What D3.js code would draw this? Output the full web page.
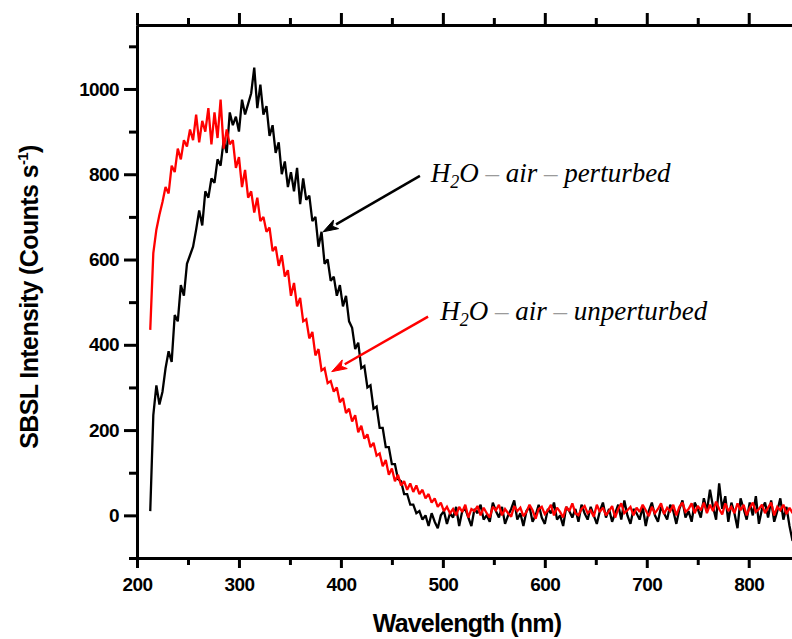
<!DOCTYPE html>
<html>
<head>
<meta charset="utf-8">
<script src="https://cdn.jsdelivr.net/npm/d3@7"></script>
<style>
  html, body { margin: 0; padding: 0; background: #fff; }
  svg { display: block; }
</style>
</head>
<body>
<svg id="chart" width="792" height="639"></svg>
<script>
// ---------------- DATA ----------------
const waveStart = 213, waveStep = 3;   // nm grid of the spectra

const perturbed = [ // H2O - air - perturbed (black), counts/s
  10,235,305,260,290,345,385,360,470,455,
  540,515,590,610,630,670,715,680,760,745,
  790,780,835,820,880,850,945,915,935,900,
  975,940,965,990,1050,955,1010,940,960,890,
  915,850,875,800,830,770,805,760,815,730,
  790,740,750,690,700,630,665,590,600,550,
  560,515,540,490,515,455,440,390,405,345,
  350,300,305,250,255,205,205,160,160,120,
  120,85,80,50,50,25,25,5,10,-10,
  0,-25,5,-15,-30,0,10,-20,5,-5,
  20,-25,10,15,-5,-25,15,5,25,-10,
  0,-15,30,10,-5,20,-20,0,15,35,
  -10,5,-25,10,20,-15,0,25,-5,-20,
  15,5,30,-10,0,-25,20,10,-5,15,
  -15,25,5,-10,20,0,-20,10,30,-5,
  15,-15,5,25,-10,35,0,-20,15,5,
  -10,20,-25,10,30,0,-15,20,5,-10,
  25,10,-20,15,35,-5,10,-15,30,15,
  -5,40,10,60,20,-10,75,15,45,-15,
  30,5,-30,40,15,-10,30,0,45,-20,
  15,30,-5,35,-15,10,40,-10,20,-25,-60
];

const unperturbed = [ // H2O - air - unperturbed (red), counts/s
  435,615,670,705,735,770,755,820,805,860,
  835,880,865,905,880,940,875,925,900,955,
  870,945,885,975,860,905,870,880,815,840,
  770,810,745,760,710,745,690,700,665,675,
  620,630,585,610,560,575,515,545,490,510,
  455,460,415,430,375,390,340,345,310,315,
  290,300,265,275,240,250,220,235,195,210,
  180,190,160,170,140,145,115,130,95,110,
  80,95,70,80,60,75,55,70,50,60,
  40,50,30,40,20,30,10,20,5,15,
  0,20,8,25,-5,15,10,22,0,18,
  5,-5,20,12,25,0,15,5,-3,22,
  10,18,-2,8,25,12,-8,15,20,3,
  12,25,0,18,8,-5,20,10,28,5,
  0,15,22,5,12,-3,25,8,18,0,
  10,22,-5,15,28,5,12,20,0,18,
  8,25,12,-2,20,5,15,28,3,18,
  10,25,0,20,30,8,15,28,5,22,
  12,30,5,25,10,32,15,2,28,10,
  20,5,28,12,25,0,18,30,8,15,
  25,5,18,30,0,20,12,25,3,18,5
];

const xTicksMajor = [200, 300, 400, 500, 600, 700, 800];
const xTicksMinor = [250, 350, 450, 550, 650, 750, 850];
const yTicksMajor = [0, 200, 400, 600, 800, 1000];
const yTicksMinor = [-100, 100, 300, 500, 700, 900, 1100];

const xTitle = "Wavelength (nm)";
const yTitle = "SBSL Intensity (Counts s";
const yTitleSup = "-1";

// annotations (data coordinates: wavelength, counts)
const annotations = [
  { label: "perturbed",   color: "#000", text: [488, 782], tail: [477.5, 796], head: [382.5, 665] },
  { label: "unperturbed", color: "#ff0000", text: [497.5, 457], tail: [485.5, 466], head: [391, 337] }
];

// ---------------- CHART ----------------
const svg = d3.select("#chart");
const x = d3.scaleLinear().domain([200, 850]).range([137, 799.7]);
const y = d3.scaleLinear().domain([-100, 1150]).range([558, 25]);

const sans = "'Liberation Sans', Arial, Helvetica, sans-serif";
const serif = "'Liberation Serif', 'Times New Roman', Times, serif";

svg.append("defs").append("clipPath").attr("id", "plotclip")
  .append("rect").attr("x", x(200)).attr("y", y(1150))
  .attr("width", x(850) - x(200)).attr("height", y(-100) - y(1150));

const line = d3.line()
  .x(d => x(d[0]))
  .y(d => y(d[1]));

const toPoints = arr => arr.map((v, i) => [waveStart + i * waveStep, v]);

const plot = svg.append("g").attr("clip-path", "url(#plotclip)");
plot.append("path")
  .datum(toPoints(perturbed))
  .attr("d", line)
  .attr("fill", "none").attr("stroke", "#000").attr("stroke-width", 2.3)
  .attr("stroke-linejoin", "miter").attr("stroke-miterlimit", 2);
plot.append("path")
  .datum(toPoints(unperturbed))
  .attr("d", line)
  .attr("fill", "none").attr("stroke", "#ff0000").attr("stroke-width", 2.3)
  .attr("stroke-linejoin", "miter").attr("stroke-miterlimit", 2);

// ---- axes ----
function styleAxis(g) {
  g.select(".domain").attr("stroke", "#000").attr("stroke-width", 3);
  g.selectAll(".tick line").attr("stroke", "#000").attr("stroke-width", 3);
  g.selectAll(".tick text")
    .attr("fill", "#000")
    .style("font-family", sans).style("font-weight", "bold")
    .style("font-size", "19px").style("letter-spacing", "-0.6px");
}

// bottom
svg.append("g").attr("transform", `translate(0,${y(-100)})`)
  .call(d3.axisBottom(x).tickValues(xTicksMinor).tickSize(7).tickSizeOuter(0).tickFormat(""))
  .call(styleAxis);
svg.append("g").attr("transform", `translate(0,${y(-100)})`)
  .call(d3.axisBottom(x).tickValues(xTicksMajor).tickSize(10).tickSizeOuter(0).tickPadding(10).tickFormat(d3.format("d")))
  .call(styleAxis);
// top
svg.append("g").attr("transform", `translate(0,${y(1150)})`)
  .call(d3.axisTop(x).tickValues(xTicksMinor).tickSize(7).tickSizeOuter(0).tickFormat(""))
  .call(styleAxis);
svg.append("g").attr("transform", `translate(0,${y(1150)})`)
  .call(d3.axisTop(x).tickValues(xTicksMajor).tickSize(12).tickSizeOuter(0).tickFormat(""))
  .call(styleAxis);
// left
svg.append("g").attr("transform", `translate(${x(200)},0)`)
  .call(d3.axisLeft(y).tickValues(yTicksMinor).tickSize(8).tickSizeOuter(0).tickFormat(""))
  .call(styleAxis);
svg.append("g").attr("transform", `translate(${x(200)},0)`)
  .call(d3.axisLeft(y).tickValues(yTicksMajor).tickSize(13).tickSizeOuter(0).tickPadding(5).tickFormat(d3.format("d")))
  .call(styleAxis);
// right (falls just outside the picture)
svg.append("g").attr("transform", `translate(${x(850)},0)`)
  .call(d3.axisRight(y).tickValues(yTicksMajor).tickSize(12).tickSizeOuter(0).tickFormat(""))
  .call(styleAxis);

// ---- axis titles ----
svg.append("text")
  .attr("x", 467).attr("y", 632)
  .attr("text-anchor", "middle")
  .style("font-family", sans).style("font-weight", "bold")
  .style("font-size", "25px").style("letter-spacing", "-0.8px")
  .text(xTitle);

const yt = svg.append("text")
  .attr("transform", "translate(38,297) rotate(-90)")
  .attr("text-anchor", "middle")
  .style("font-family", sans).style("font-weight", "bold")
  .style("font-size", "25px").style("letter-spacing", "-0.6px");
yt.append("tspan").text(yTitle);
yt.append("tspan").attr("dy", -10).style("font-size", "15px").text(yTitleSup);
yt.append("tspan").attr("dy", 10).text(")");

// ---- annotations ----
annotations.forEach(a => {
  const x1 = x(a.tail[0]), y1 = y(a.tail[1]);
  const x2 = x(a.head[0]), y2 = y(a.head[1]);
  const ang = Math.atan2(y2 - y1, x2 - x1);
  const L = 15, W = 5;
  const bx = x2 - L * Math.cos(ang), by = y2 - L * Math.sin(ang);
  svg.append("line")
    .attr("x1", x1).attr("y1", y1).attr("x2", bx).attr("y2", by)
    .attr("stroke", a.color).attr("stroke-width", 2.5);
  svg.append("path")
    .attr("d", `M${x2},${y2}L${bx + W * Math.sin(ang)},${by - W * Math.cos(ang)}L${bx + 4 * Math.cos(ang)},${by + 4 * Math.sin(ang)}L${bx - W * Math.sin(ang)},${by + W * Math.cos(ang)}Z`)
    .attr("fill", a.color).attr("stroke", a.color).attr("stroke-width", 1);

  const t = svg.append("text")
    .attr("x", x(a.text[0])).attr("y", y(a.text[1]))
    .style("font-family", serif).style("font-style", "italic")
    .style("font-size", "27px").attr("fill", "#000");
  t.append("tspan").text("H");
  t.append("tspan").attr("dy", 6).style("font-size", "18px").text("2");
  t.append("tspan").attr("dy", -6).text("O");
  t.append("tspan").attr("fill", "#9a9a9a").style("font-style", "normal").text(" \u2013 ");
  t.append("tspan").text("air");
  t.append("tspan").attr("fill", "#9a9a9a").style("font-style", "normal").text(" \u2013 ");
  t.append("tspan").text(a.label);
});
</script>
</body>
</html>
